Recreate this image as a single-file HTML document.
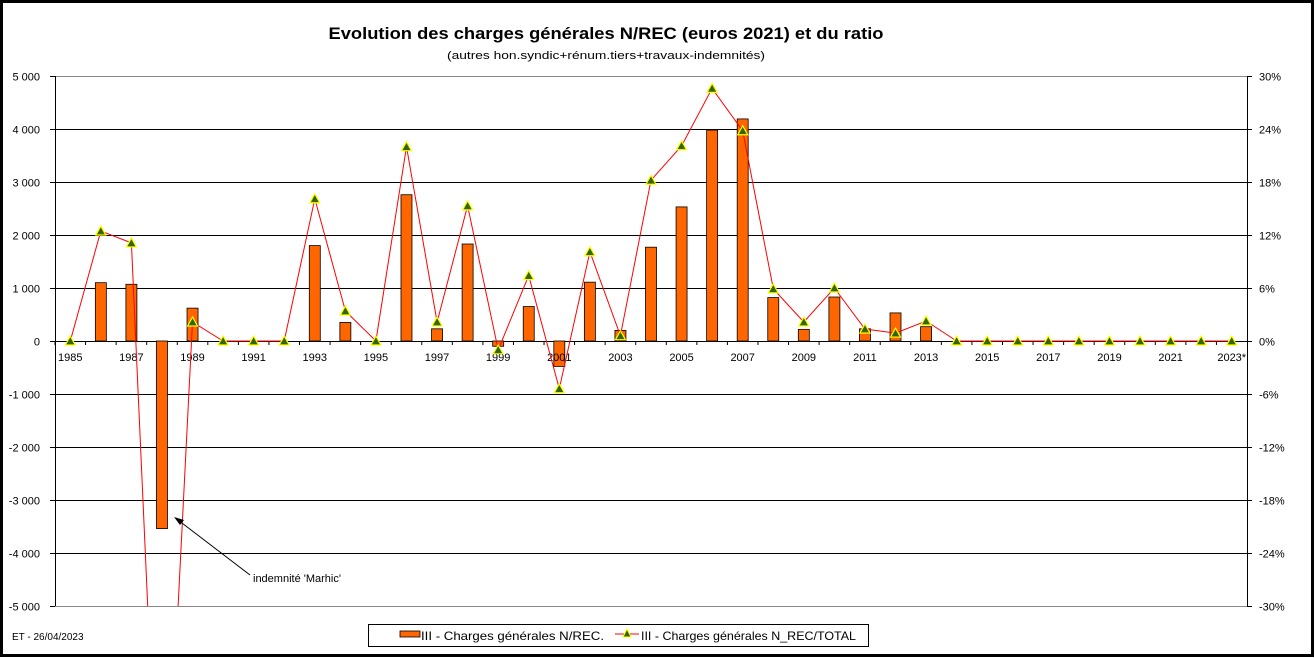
<!DOCTYPE html>
<html><head><meta charset="utf-8"><style>
html,body{margin:0;padding:0;background:#fff;overflow:hidden;width:1315px;height:658px}
svg{display:block;font-family:"Liberation Sans",Arial,sans-serif}
</style></head><body>
<svg id="c" width="1315" height="658" xmlns="http://www.w3.org/2000/svg">
<rect x="1.5" y="1.5" width="1311" height="654" fill="#fff" stroke="#000" stroke-width="3"/>
<text x="606" y="39" text-anchor="middle" font-size="17" font-weight="bold" textLength="555" lengthAdjust="spacingAndGlyphs">Evolution des charges générales N/REC (euros 2021) et du ratio</text>
<text x="606" y="59" text-anchor="middle" font-size="11" textLength="318" lengthAdjust="spacingAndGlyphs">(autres hon.syndic+rénum.tiers+travaux-indemnités)</text>
<g id="g"></g>
<text x="12" y="640" font-size="10">ET - 26/04/2023</text>
<rect x="368.5" y="624.5" width="500" height="22" fill="#fff" stroke="#000"/>
<rect x="400" y="631" width="20" height="6" fill="#ff6600" stroke="#000" stroke-width="0.8"/>
<text x="421" y="640" font-size="12" textLength="183" lengthAdjust="spacingAndGlyphs">III - Charges générales N/REC.</text>
<line x1="615" y1="634" x2="639" y2="634" stroke="red"/>
<polygon points="627,629 631,637 623,637" fill="#336600" stroke="#ffff00" stroke-width="1"/>
<text x="641" y="640" font-size="12" textLength="215" lengthAdjust="spacingAndGlyphs">III - Charges générales N_REC/TOTAL</text>
<line x1="250" y1="575" x2="178" y2="520" stroke="#000"/>
<polygon points="174,517 184,520 180,525" fill="#000"/>
<text x="253" y="582" font-size="11">indemnité 'Marhic'</text>
</svg>
<script>
var g=document.getElementById('g'),s='';
var L=55,R=1247,T=76,B=606,Z=341,n=39,cw=(R-L)/n;
function yv(v){return Z-v*0.053}
function yp(p){return Z-p*53/6}
for(var i=0;i<=10;i++){var y=T+i*53+0.5;
 s+='<line x1="'+L+'" y1="'+y+'" x2="'+R+'" y2="'+y+'" stroke="'+(i==0||i==10?'#888':'#000')+'" stroke-width="1"/>';
 s+='<line x1="'+(L-5)+'" y1="'+y+'" x2="'+L+'" y2="'+y+'" stroke="#000"/>';
 s+='<line x1="'+R+'" y1="'+y+'" x2="'+(R+5)+'" y2="'+y+'" stroke="#000"/>';
 var v=5000-i*1000,t=(v<0?'-':'')+(Math.abs(v)>=1000?Math.floor(Math.abs(v)/1000)+' 000':'0');
 s+='<text x="40" y="'+(y+4)+'" text-anchor="end" font-size="11">'+t+'</text>';
 var p=30-i*6;s+='<text x="1259" y="'+(y+4)+'" font-size="11">'+p+'%</text>';}
s+='<line x1="'+(L+0.5)+'" y1="'+T+'" x2="'+(L+0.5)+'" y2="'+B+'" stroke="#000"/>';
s+='<line x1="'+(R+0.5)+'" y1="'+T+'" x2="'+(R+0.5)+'" y2="'+B+'" stroke="#000"/>';
var bars=[0,1100,1070,-3540,620,0,0,0,1800,350,0,2760,230,1830,-100,650,-480,1110,200,1770,2530,3980,4190,820,220,830,230,530,270,0,0,0,0,0,0,0,0,0,0];
var pc=[0,12.45,11.1,-66,2.15,0,0,0,16.1,3.4,0,22,2.15,15.3,-1,7.4,-5.4,10.1,0.6,18.2,22.1,28.6,23.8,5.9,2.15,6,1.36,0.9,2.26,0,0,0,0,0,0,0,0,0,0];
for(var i=0;i<n;i++){var cx=L+cw*(i+0.5),v=bars[i];
 s+='<line x1="'+(L+cw*i)+'" y1="'+Z+'" x2="'+(L+cw*i)+'" y2="'+(Z+4)+'" stroke="#000"/>';
 if(v){var y1=yv(Math.max(v,0)),y2=yv(Math.min(v,0));
 s+='<rect x="'+(cx-5.5)+'" y="'+y1+'" width="11" height="'+(y2-y1)+'" fill="#ff6600" stroke="#000" stroke-width="0.8"/>';}
 if(i%2==0)s+='<text x="'+cx+'" y="'+(Z+20)+'" text-anchor="middle" font-size="11">'+(1985+i)+(i==38?'*':'')+'</text>';}
var pts=[];for(var i=0;i<n;i++)pts.push((L+cw*(i+0.5)).toFixed(1)+','+yp(pc[i]).toFixed(1));
s+='<defs><clipPath id="cp"><rect x="'+L+'" y="'+T+'" width="'+(R-L)+'" height="'+(B-T)+'"/></clipPath></defs>';
s+='<polyline clip-path="url(#cp)" points="'+pts.join(' ')+'" fill="none" stroke="red" stroke-width="1"/>';
for(var i=0;i<n;i++){if(i==3)continue;var x=L+cw*(i+0.5),y=yp(pc[i]);
 s+='<polygon points="'+x+','+(y-5)+' '+(x+5)+','+(y+4)+' '+(x-5)+','+(y+4)+'" fill="#336600" stroke="#ffff00" stroke-width="1.2"/>';}
g.innerHTML=s;
</script>
</body></html>
